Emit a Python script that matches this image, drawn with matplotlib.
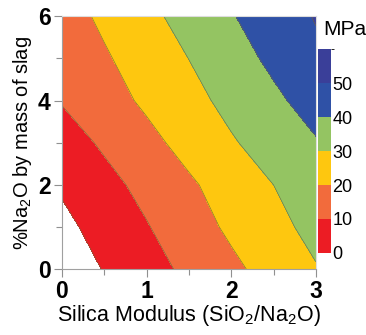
import numpy as np
import matplotlib
matplotlib.use("Agg")
import matplotlib.pyplot as plt
from matplotlib.colors import ListedColormap, BoundaryNorm

plt.rcParams['font.family'] = ['Liberation Sans', 'DejaVu Sans']
plt.rcParams['mathtext.fontset'] = 'custom'
plt.rcParams['mathtext.rm'] = 'Liberation Sans'

# silica modulus (x) and %Na2O (y) grid, strength in MPa
modulus = [0.0, 0.5, 1.0, 1.5, 2.0, 2.5, 3.0]
na2o = [0, 1, 2, 3, 4, 5, 6]
strength = [
    [-5.5, 0.4, 6.2, 12.1, 17.9, 23.7, 29.4],
    [-2.4, 3.5, 9.4, 15.6, 21.7, 27.2, 32.8],
    [1.2, 7.0, 12.8, 18.6, 24.3, 30.0, 35.6],
    [5.5, 11.4, 17.3, 23.2, 29.1, 34.1, 39.3],
    [10.6, 16.1, 21.6, 27.1, 32.6, 38.2, 43.8],
    [13.3, 18.9, 24.5, 30.1, 36.1, 42.0, 48.0],
    [15.9, 21.8, 27.6, 33.5, 39.4, 45.0, 50.6],
]
levels = [0, 10, 20, 30, 40, 50, 60]
colors = ['#ec1c24', '#f26b3c', '#fec70f', '#94c462', '#2f51a6', '#3a3f99']

X, Y = np.meshgrid(modulus, na2o)
Z = np.array(strength)

fig = plt.figure(figsize=(3.66, 3.35), dpi=100)
ax = fig.add_axes([0.169, 0.196, 0.694, 0.756])
cmap = ListedColormap(colors)
norm = BoundaryNorm(levels, cmap.N)
cf = ax.contourf(X, Y, Z, levels=levels, cmap=cmap, norm=norm)
ax.contour(X, Y, Z, levels=levels[:-1], colors='#6e6a3c', linewidths=0.4)

ax.set_xlim(0, 3)
ax.set_ylim(0, 6)
ax.set_xticks([0, 1, 2, 3])
ax.set_yticks([0, 2, 4, 6])
ax.set_xticks([0.5, 1.5, 2.5], minor=True)
ax.set_yticks([1, 3, 5], minor=True)
for s in ax.spines.values():
    s.set_color('#a0a0a0')
    s.set_linewidth(0.8)
ax.spines['top'].set_color('#dddddd')
ax.spines['right'].set_color('#dddddd')
ax.tick_params(which='both', color='#909090', width=0.8, direction='out')
ax.tick_params(which='major', length=6, labelsize=16.5, pad=2)
ax.tick_params(which='minor', length=4)
for lab in ax.get_xticklabels() + ax.get_yticklabels():
    lab.set_fontweight('bold')
ax.set_xlabel(r'Silica Modulus (SiO$\mathregular{_2}$/Na$\mathregular{_2}$O)',
              fontsize=15.5, labelpad=0)
ax.set_ylabel(r'%Na$_2$O by mass of slag', fontsize=14.5, labelpad=3)

cax = fig.add_axes([0.869, 0.245, 0.036, 0.608])
cb = fig.colorbar(cf, cax=cax, ticks=[0, 10, 20, 30, 40, 50])
cb.outline.set_visible(False)
cax.tick_params(length=0, labelsize=13, pad=1)
fig.text(0.883, 0.913, 'MPa', fontsize=15, ha='left', va='center')

fig.savefig('out.png', dpi=100)
